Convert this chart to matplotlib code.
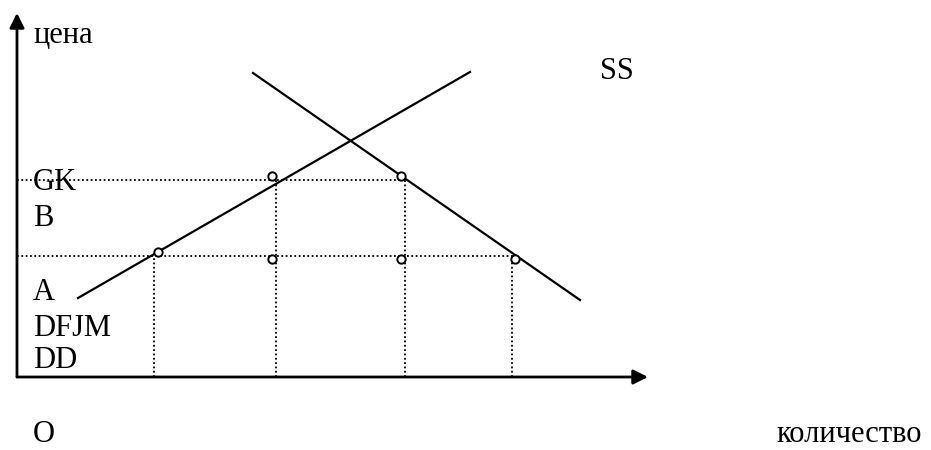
import matplotlib.pyplot as plt

# supply / demand diagram, units are pixels from the origin
supply_q = [61, 453]
supply_p = [79, 305]
demand_q = [236, 563]
demand_p = [304, 77]

price_levels = [197, 121]          # high, low
price_ends = [388, 497]            # where the dotted price lines stop
qty_levels = [137, 259, 388, 495]  # dotted verticals
qty_tops = [121, 197, 197, 121]

circle_q = [141, 255, 384, 255, 384, 498]
circle_p = [125, 201, 201, 118, 118, 118]

labels = ['GK', 'B', 'A', 'DFJM', 'DD']
label_p = [187, 151, 77, 41, 9]

plt.rcParams['font.family'] = ['Liberation Serif', 'DejaVu Serif']

fig = plt.figure(figsize=(9.31, 4.5), dpi=100)
ax = fig.add_axes([0, 0, 1, 1])
ax.set_xlim(-17, 914)
ax.set_ylim(-73, 377)
ax.axis('off')

# axes with arrows
arrow = dict(arrowstyle='-|>', lw=2, color='k', mutation_scale=22, shrinkA=0, shrinkB=0)
ax.annotate('', xy=(0, 364), xytext=(0, 0), arrowprops=arrow)
ax.annotate('', xy=(631, 0), xytext=(0, 0), arrowprops=arrow)

dots = (0, (1, 1.4))
for p, e in zip(price_levels, price_ends):
    ax.plot([0, e], [p, p], color='k', lw=1.3, linestyle=dots)
for q, t in zip(qty_levels, qty_tops):
    ax.plot([q, q], [0, t], color='k', lw=1.3, linestyle=dots)

ax.plot(supply_q, supply_p, color='k', lw=1.6)
ax.plot(demand_q, demand_p, color='k', lw=1.6)

ax.plot(circle_q, circle_p, 'o', ms=6, mfc='white', mec='k', mew=1.4)

fs = 22
ax.text(16, 334, 'цена', fontsize=fs, va='baseline')
for s, p in zip(labels, label_p):
    ax.text(16, p, s, fontsize=fs, va='baseline')
ax.text(583, 298, 'SS', fontsize=fs, va='baseline')
ax.text(16, -65, 'O', fontsize=fs, va='baseline')
ax.text(759, -65, 'количество', fontsize=fs, va='baseline')

fig.savefig('out.png', dpi=100)
